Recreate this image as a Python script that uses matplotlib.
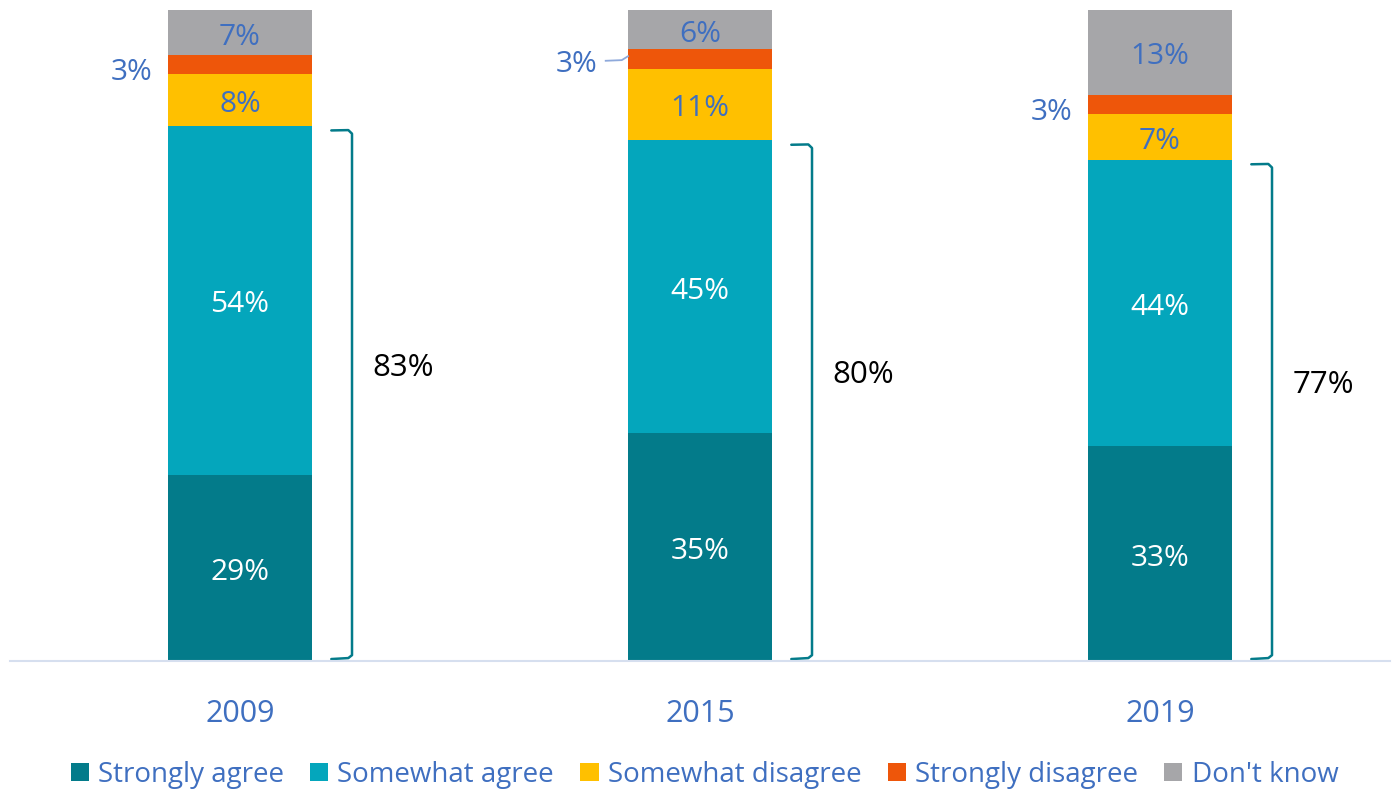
import matplotlib.pyplot as plt
from matplotlib.patches import Patch
import numpy as np

plt.rcParams['font.family'] = ['Open Sans', 'DejaVu Sans']

years = ['2009', '2015', '2019']
categories = ['Strongly agree', 'Somewhat agree', 'Somewhat disagree', 'Strongly disagree', "Don't know"]
strongly_agree = [28.6, 35, 33]
somewhat_agree = [53.6, 45, 44]
somewhat_disagree = [8.0, 11, 7]
strongly_disagree = [2.9, 3, 3]
dont_know = [6.9, 6, 13]
agree_totals = [83, 80, 77]

colors = ['#037B8A', '#04A6BC', '#FFC000', '#EE560A', '#A6A6A9']
label_colors = ['white', 'white', '#3F6FC0', None, '#3F6FC0']
blue = '#3F6FC0'

series = [strongly_agree, somewhat_agree, somewhat_disagree, strongly_disagree, dont_know]

fig = plt.figure(figsize=(13.95, 7.9), dpi=100)
ax = fig.add_axes([10 / 1395, 129 / 790, 1380 / 1395, 651 / 790])

x = np.arange(len(years))
width = 0.313
bottom = np.zeros(len(years))
for vals, col, lc in zip(series, colors, label_colors):
    vals = np.array(vals, dtype=float)
    ax.bar(x, vals, width, bottom=bottom, color=col, edgecolor='none')
    if lc is not None:
        for xi, b, v in zip(x, bottom, vals):
            ax.text(xi, b + v / 2 - 0.7, f"{v:.0f}%", ha='center', va='center',
                    color=lc, fontsize=21.5)
    bottom += vals

# small "3%" labels outside the bars
sd_bottom = np.array(strongly_agree) + np.array(somewhat_agree) + np.array(somewhat_disagree)
for i, (b, v) in enumerate(zip(sd_bottom, strongly_disagree)):
    ym = b + v / 2
    if i == 1:
        ax.text(x[i] - 0.222, ym - 0.9, f"{v:.0f}%", ha='right', va='center', color=blue, fontsize=21.5)
        ax.plot([x[i] - 0.205, x[i] - 0.17, x[i] - width / 2], [ym - 0.3, ym - 0.2, ym + 0.4],
                color='#8EA9DB', lw=1.3)
    else:
        ax.text(x[i] - 0.19, ym - 1.3, f"{v:.0f}%", ha='right', va='center', color=blue, fontsize=21.5)

# brackets for total agree
agree_top = np.array(strongly_agree) + np.array(somewhat_agree)
for xi, top, tot in zip(x, agree_top, agree_totals):
    xr = xi + width / 2 + 0.087
    xl = xr - 0.045
    ax.plot([xl, xr - 0.008, xr, xr, xr - 0.008, xl],
            [top - 0.7, top - 0.65, top - 1.2, 0.9, 0.45, 0.3],
            color='#037B8A', lw=1.8, solid_capstyle='round', solid_joinstyle='round')
    ax.text(xr + 0.045, top / 2 + 3.9, f"{tot}%", ha='left', va='center',
            color='black', fontsize=22.5)

ax.set_xlim(-0.5, 2.5)
ax.set_ylim(0, 100)
ax.set_xticks(x)
ax.set_xticklabels(years, color=blue, fontsize=22)
ax.tick_params(axis='x', length=0, pad=27)
ax.set_yticks([])
for s in ['top', 'right', 'left']:
    ax.spines[s].set_visible(False)
ax.spines['bottom'].set_color('#D6DFEF')
ax.spines['bottom'].set_linewidth(1.5)

handles = [Patch(facecolor=c, edgecolor='none') for c in colors]
leg = fig.legend(handles, categories, loc='lower center', bbox_to_anchor=(0.505, -0.03),
                 ncol=5, frameon=False, fontsize=20, handlelength=0.65, handleheight=0.65,
                 handletextpad=0.33, columnspacing=0.95)
for t in leg.get_texts():
    t.set_color(blue)

fig.savefig('out.png', dpi=100)
